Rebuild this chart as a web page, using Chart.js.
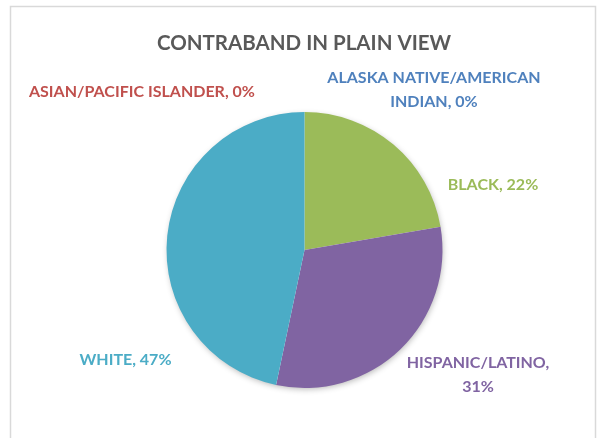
<!DOCTYPE html>
<html>
<head>
<meta charset="utf-8">
<script src="https://cdn.jsdelivr.net/npm/chart.js@4"></script>
<style>
  html, body { margin: 0; padding: 0; background: #fff; }
  #wrap { width: 598px; height: 438px; }
</style>
</head>
<body>
<div id="wrap"><canvas id="pie" width="598" height="438"></canvas></div>
<script>
// data
const chartTitle = 'CONTRABAND IN PLAIN VIEW'
const categories = ['ALASKA NATIVE/AMERICAN INDIAN', 'ASIAN/PACIFIC ISLANDER', 'BLACK', 'HISPANIC/LATINO', 'WHITE']
const shares = [0, 0, 22.3, 31.0, 46.7]
const sliceColors = ['#4F81BD', '#C0504D', '#9BBB59', '#8064A2', '#4BACC6']

// where each data label sits, relative to the pie centre (in radii), and its wrap width
const labelSpots = [
    { dx: 0.938, dy: -1.159, wrap: 220 },
    { dx: -1.178, dy: -1.145, wrap: 320 },
    { dx: 1.366, dy: -0.471, wrap: 200 },
    { dx: 1.257, dy: 0.906, wrap: 160 },
    { dx: -1.297, dy: 0.797, wrap: 200 }
]

const labelFont = 'bold 16px Lato, "Open Sans", sans-serif'
const titleFont = 'bold 20.5px Lato, "Open Sans", sans-serif'

function wrapText(ctx, text, maxWidth){
    let words = text.split(' ')
    let lines = []
    let line = ''
    words.forEach(w => {
        let test = line ? line + ' ' + w : w
        if (line && ctx.measureText(test).width > maxWidth){
            lines.push(line)
            line = w
        } else {
            line = test
        }
    })
    if (line) lines.push(line)
    return lines
}

// frame + title
const framePlugin = {
    id: 'frame',
    beforeDraw(chart){
        let ctx = chart.ctx
        ctx.save()
        ctx.fillStyle = '#fff'
        ctx.fillRect(0, 0, chart.width, chart.height)
        ctx.strokeStyle = '#D9D9D9'
        ctx.lineWidth = 1.5
        ctx.strokeRect(10.5, 6.5, chart.width - 13, chart.height + 10)
        ctx.fillStyle = '#595959'
        ctx.font = titleFont
        ctx.textAlign = 'center'
        ctx.textBaseline = 'middle'
        ctx.fillText(chartTitle, 304, 43)
        ctx.restore()
    }
}

// soft shadow under the whole pie
const shadowPlugin = {
    id: 'pieShadow',
    beforeDatasetsDraw(chart){
        let arc = chart.getDatasetMeta(0).data[0]
        let ctx = chart.ctx
        ctx.save()
        ctx.shadowColor = 'rgba(0,0,0,0.30)'
        ctx.shadowBlur = 6
        ctx.shadowOffsetX = 1
        ctx.shadowOffsetY = 2
        ctx.fillStyle = '#fff'
        ctx.beginPath()
        ctx.arc(arc.x, arc.y, arc.outerRadius - 1, 0, Math.PI * 2)
        ctx.fill()
        ctx.restore()
    }
}

// data labels "CATEGORY, xx%"
const labelPlugin = {
    id: 'sliceLabels',
    afterDatasetsDraw(chart){
        let ctx = chart.ctx
        let meta = chart.getDatasetMeta(0)
        let total = shares.reduce((a, b) => a + b, 0)
        ctx.save()
        ctx.font = labelFont
        ctx.textAlign = 'center'
        ctx.textBaseline = 'middle'
        meta.data.forEach((arc, i) => {
            let pct = Math.round(shares[i] / total * 100)
            let text = categories[i] + ', ' + pct + '%'
            let spot = labelSpots[i]
            let cx = arc.x + spot.dx * arc.outerRadius
            let cy = arc.y + spot.dy * arc.outerRadius
            let lines = wrapText(ctx, text, spot.wrap)
            let lh = 24
            let y0 = cy - (lines.length - 1) * lh / 2
            ctx.fillStyle = sliceColors[i]
            lines.forEach((l, k) => ctx.fillText(l, cx, y0 + k * lh))
        })
        ctx.restore()
    }
}

let ctx = document.getElementById('pie').getContext('2d')
let chart = new Chart(ctx, {
    type: 'pie',
    data: {
        labels: categories,
        datasets: [{
            data: shares,
            backgroundColor: sliceColors,
            borderWidth: 0
        }]
    },
    options: {
        responsive: false,
        animation: false,
        layout: { padding: { top: 112, bottom: 50, left: 100, right: 89 } },
        plugins: {
            legend: { display: false },
            tooltip: { enabled: false },
            title: { display: false }
        }
    },
    plugins: [framePlugin, shadowPlugin, labelPlugin]
})
</script>
</body>
</html>
